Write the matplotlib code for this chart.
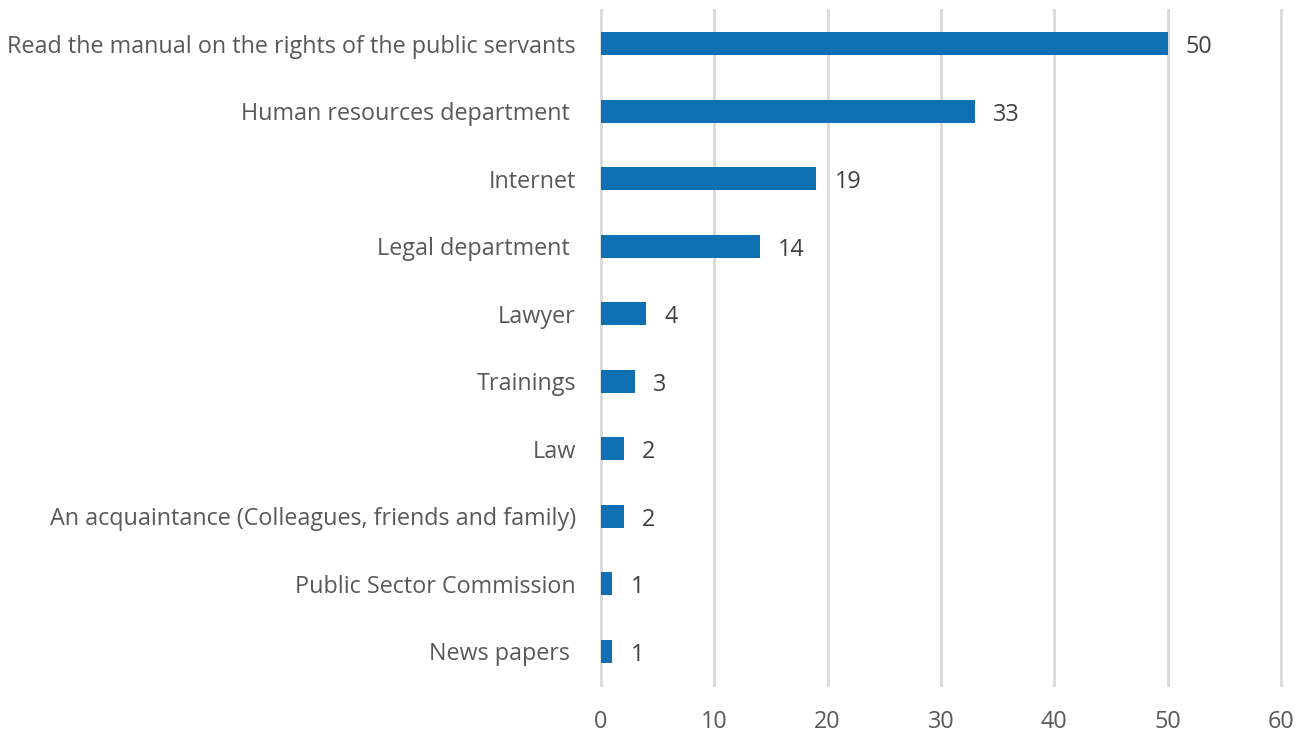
import matplotlib
matplotlib.use("Agg")
import matplotlib.pyplot as plt

categories = [
    "Read the manual on the rights of the public servants",
    "Human resources department ",
    "Internet",
    "Legal department ",
    "Lawyer",
    "Trainings",
    "Law",
    "An acquaintance (Colleagues, friends and family)",
    "Public Sector Commission",
    "News papers ",
]
values = [50, 33, 19, 14, 4, 3, 2, 2, 1, 1]
xticks = [0, 10, 20, 30, 40, 50, 60]

plt.rcParams['font.family'] = ['Open Sans', 'DejaVu Sans']
fig = plt.figure(figsize=(13.02, 7.33), dpi=100)
ax = fig.add_axes([601/1302, 1-685/733, 680/1302, 675/733])

bar_color = "#0e70b3"
label_color = "#595959"
value_color = "#404040"
fs = 16.8
ys = list(range(len(categories)))
ax.barh(ys, values, height=0.34, color=bar_color, zorder=3)
for y, v in zip(ys, values):
    ax.text(v + 1.6, y + 0.05, str(v), va='center', ha='left', fontsize=fs, color=value_color)

ax.set_xlim(0, 60)
ax.set_ylim(len(categories) - 0.5, -0.5)
ax.set_xticks(xticks)
ax.set_yticks(ys)
ax.set_yticklabels(categories)
ax.grid(axis='x', color='#d9d9d9', linewidth=2, zorder=0)
for gl in ax.get_xgridlines():
    gl.set_clip_on(False)
ax.set_axisbelow(True)
for s in ax.spines.values():
    s.set_visible(False)
ax.tick_params(axis='both', length=0, labelsize=fs, labelcolor=label_color)
ax.tick_params(axis='y', pad=18)
ax.tick_params(axis='x', pad=18)

fig.savefig("out.png", dpi=100)
